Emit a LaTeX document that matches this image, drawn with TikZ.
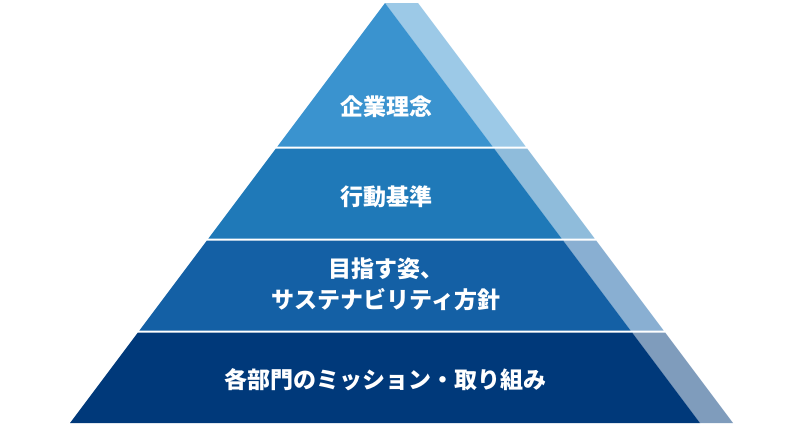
\documentclass[tikz,border=0pt]{standalone}
\usepackage{fontspec}
\newfontfamily\cjk{Noto Sans CJK JP}
\definecolor{c1}{HTML}{3A93CF}
\definecolor{c2}{HTML}{1F79B8}
\definecolor{c3}{HTML}{1460A5}
\definecolor{c4}{HTML}{00397A}
\tikzset{lbl/.style={text=white,font=\cjk\bfseries\fontsize{23}{31}\selectfont,align=center,inner sep=0pt}}
\newcommand{\band}[3]{%
 \fill[#3] ({385-0.75*(#1-3)},#1) -- ({385+0.75*(#1-3)},#1) -- ({385+0.75*(#2-3)},#2) -- ({385-0.75*(#2-3)},#2) -- cycle;
 \fill[#3,opacity=0.5] ({385+0.75*(#1-3)},#1) -- ({418+0.75*(#1-3)},#1) -- ({418+0.75*(#2-3)},#2) -- ({385+0.75*(#2-3)},#2) -- cycle;}
\begin{document}
\begin{tikzpicture}[x=1pt,y=-1pt]
\useasboundingbox (0,0) rectangle (800,426);
\band{3}{146.5}{c1}
\band{148.5}{238.5}{c2}
\band{240.5}{330.5}{c3}
\band{332.5}{423}{c4}
\node[lbl] (t1) at (386,107) {企業理念};
\node[lbl] (t2) at (386,197) {行動基準};
\node[lbl] (t3) at (386,284) {目指す姿、\\サステナビリティ方針};
\node[lbl] (t4) at (385,380) {各部門のミッション・取り組み};
\end{tikzpicture}
\end{document}
